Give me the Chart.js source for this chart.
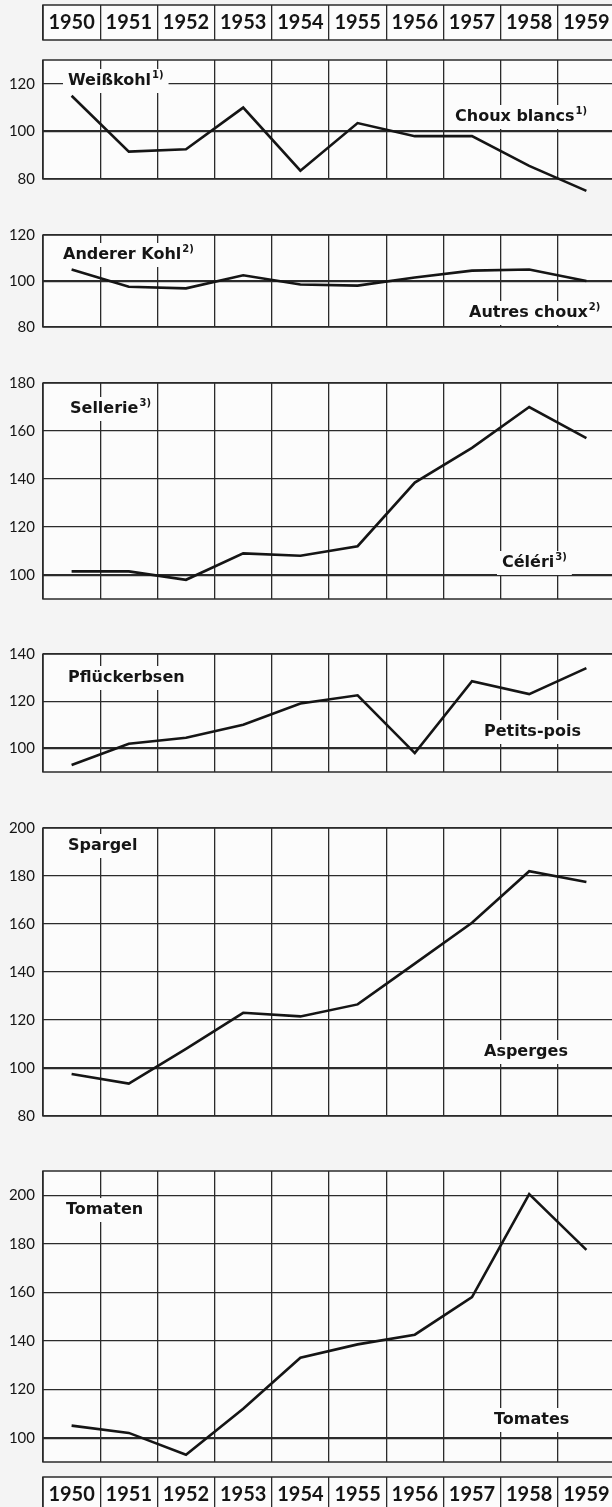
<!DOCTYPE html>
<html lang="de">
<head>
<meta charset="UTF-8">
<title>Gemüse 1950–1959</title>
<script src="https://cdn.jsdelivr.net/npm/chart.js"></script>
<style>
    body {
        margin: 0;
        background: #f4f4f4;
        width: 612px;
        height: 1507px;
        overflow: hidden;
        position: relative;
    }
    .panel {
        position: absolute;
        left: 0;
        width: 612px;
        overflow: hidden;
    }
    canvas { display: block; }
</style>
</head>
<body>
<script>
    // data (index 1950-1959 = 100 scale)
    const years = ['1950', '1951', '1952', '1953', '1954', '1955', '1956', '1957', '1958', '1959'];

    const weisskohl     = [115, 91.5, 92.5, 110, 83.5, 103.5, 98, 98, 85.5, 75];
    const andererKohl   = [105, 97.5, 96.8, 102.5, 98.5, 98, 101.5, 104.5, 105, 100];
    const sellerie      = [101.5, 101.5, 98, 109, 108, 112, 138.5, 153, 170, 157];
    const pflueckerbsen = [93, 102, 104.5, 110, 119, 122.5, 98, 128.5, 123, 134];
    const spargel       = [97.5, 93.5, 108, 123, 121.5, 126.5, 143.5, 160.5, 182, 177.5];
    const tomaten       = [105, 102, 93, 112, 133, 138.5, 142.5, 158, 200.5, 177.5];

    const ticksKohl    = [80, 100, 120];
    const ticksSell    = [100, 120, 140, 160, 180];
    const ticksErbsen  = [100, 120, 140];
    const ticksSpargel = [80, 100, 120, 140, 160, 180, 200];
    const ticksTomaten = [100, 120, 140, 160, 180, 200];

    const INK = '#151515';
    const GRID = '#2b2b2b';
    const PLOT_BG = '#fcfcfc';
    const LABEL_FONT = 'DejaVu Sans';
    const TICK_FONT = 'Lato';
    const CANVAS_W = 620;
    const AXIS_W = 43;
    const PAD_T = 14, PAD_B = 18;

    // frame + background of the plot area
    const framePlugin = {
        id: 'frame',
        beforeDraw(chart) {
            const { ctx, chartArea: a } = chart;
            ctx.save();
            ctx.fillStyle = PLOT_BG;
            ctx.fillRect(a.left, a.top, a.right - a.left, a.bottom - a.top);
            ctx.restore();
        },
        beforeDatasetsDraw(chart) {
            const { ctx, chartArea: a } = chart;
            ctx.save();
            ctx.strokeStyle = GRID;
            ctx.lineWidth = 1.5;
            ctx.strokeRect(a.left, a.top, a.right - a.left, a.bottom - a.top);
            ctx.restore();
        }
    };

    // german / french series names with a white box behind them
    const labelPlugin = {
        id: 'seriesLabels',
        beforeDatasetsDraw(chart, args, opts) {
            const { ctx, chartArea: a } = chart;
            (opts.items || []).forEach(function (it) {
                ctx.save();
                ctx.font = 'bold 16px "' + LABEL_FONT + '"';
                const w = ctx.measureText(it.text).width;
                ctx.font = 'bold 10px "' + LABEL_FONT + '"';
                const ws = it.sup ? ctx.measureText(it.sup).width + 1 : 0;
                const x = a.left + it.dx, y = a.top + it.dy;
                ctx.fillStyle = PLOT_BG;
                ctx.fillRect(x - 5, y - 12, w + ws + 10, 24);
                ctx.fillStyle = INK;
                ctx.textBaseline = 'middle';
                ctx.font = 'bold 16px "' + LABEL_FONT + '"';
                ctx.fillText(it.text, x, y);
                if (it.sup) {
                    ctx.font = 'bold 10px "' + LABEL_FONT + '"';
                    ctx.fillText(it.sup, x + w + 1, y - 6);
                }
                ctx.restore();
            });
        }
    };

    function addCanvas(top, height) {
        const div = document.createElement('div');
        div.className = 'panel';
        div.style.top = top + 'px';
        div.style.height = height + 'px';
        const c = document.createElement('canvas');
        c.width = CANVAS_W;
        c.height = height;
        div.appendChild(c);
        document.body.appendChild(div);
        return c;
    }

    function panelChart(p) {
        const h = (p.bottom - p.top) + PAD_T + PAD_B;
        const canvas = addCanvas(p.top - PAD_T, h);
        return new Chart(canvas, {
            type: 'line',
            data: {
                labels: years,
                datasets: [{
                    data: p.data,
                    borderColor: INK,
                    borderWidth: 2.6,
                    pointRadius: 0,
                    tension: 0,
                    clip: false
                }]
            },
            options: {
                responsive: false,
                animation: false,
                events: [],
                layout: { padding: { top: PAD_T, bottom: PAD_B, left: 0, right: 5 } },
                plugins: {
                    legend: { display: false },
                    tooltip: { enabled: false },
                    seriesLabels: { items: p.labels }
                },
                scales: {
                    x: {
                        offset: true,
                        grid: { offset: true, color: GRID, lineWidth: 1.3, drawTicks: false },
                        border: { display: false },
                        ticks: { display: false },
                        afterFit: function (axis) { axis.height = 0; }
                    },
                    y: {
                        min: p.min,
                        max: p.max,
                        afterBuildTicks: function (axis) {
                            axis.ticks = p.ticks.map(function (v) { return { value: v }; });
                        },
                        afterFit: function (axis) { axis.width = AXIS_W; },
                        grid: {
                            color: GRID,
                            drawTicks: false,
                            lineWidth: function (c) { return c.tick && c.tick.value === 100 ? 2.2 : 1.3; }
                        },
                        border: { display: false },
                        ticks: { color: INK, padding: 8, font: { family: TICK_FONT, size: 15 } }
                    }
                }
            },
            plugins: [framePlugin, labelPlugin]
        });
    }

    // year boxes above and below the panels
    function yearBox(top, height, padTop, padBottom) {
        const canvas = addCanvas(top, height);
        const boxH = height - padTop - padBottom;
        const size = 20;
        return new Chart(canvas, {
            type: 'line',
            data: { labels: years, datasets: [] },
            options: {
                responsive: false,
                animation: false,
                events: [],
                layout: { padding: { top: padTop, bottom: padBottom, left: AXIS_W, right: 5 } },
                plugins: { legend: { display: false }, tooltip: { enabled: false } },
                scales: {
                    x: {
                        offset: true,
                        grid: { offset: true, color: GRID, lineWidth: 1.3, drawTicks: false },
                        border: { display: false },
                        ticks: {
                            color: INK,
                            autoSkip: false,
                            maxRotation: 0,
                            mirror: true,
                            padding: boxH / 2 - size * 0.6,
                            font: { family: TICK_FONT, size: size, weight: 'bold' }
                        },
                        afterFit: function (axis) { axis.height = 0; }
                    },
                    y: { display: false }
                }
            },
            plugins: [framePlugin]
        });
    }

    yearBox(0, 46, 5, 6);

    const panels = [
        { data: weisskohl, min: 80, max: 130, ticks: ticksKohl, top: 57, bottom: 179,
          labels: [{ text: 'Weißkohl', sup: '1)', dx: 25, dy: 21 },
                   { text: 'Choux blancs', sup: '1)', dx: 412, dy: 57 }] },
        { data: andererKohl, min: 80, max: 120, ticks: ticksKohl, top: 232, bottom: 327,
          labels: [{ text: 'Anderer Kohl', sup: '2)', dx: 20, dy: 20 },
                   { text: 'Autres choux', sup: '2)', dx: 426, dy: 78 }] },
        { data: sellerie, min: 90, max: 180, ticks: ticksSell, top: 380, bottom: 599,
          labels: [{ text: 'Sellerie', sup: '3)', dx: 27, dy: 26 },
                   { text: 'Céléri', sup: '3)', dx: 459, dy: 180 }] },
        { data: pflueckerbsen, min: 90, max: 140, ticks: ticksErbsen, top: 651, bottom: 772,
          labels: [{ text: 'Pflückerbsen', dx: 25, dy: 24 },
                   { text: 'Petits-pois', dx: 441, dy: 78 }] },
        { data: spargel, min: 80, max: 200, ticks: ticksSpargel, top: 825, bottom: 1116,
          labels: [{ text: 'Spargel', dx: 25, dy: 18 },
                   { text: 'Asperges', dx: 441, dy: 224 }] },
        { data: tomaten, min: 90, max: 210, ticks: ticksTomaten, top: 1168, bottom: 1462,
          labels: [{ text: 'Tomaten', dx: 23, dy: 39 },
                   { text: 'Tomates', dx: 451, dy: 249 }] }
    ];

    panels.forEach(panelChart);

    yearBox(1471, 50, 6, 9);
</script>
</body>
</html>
